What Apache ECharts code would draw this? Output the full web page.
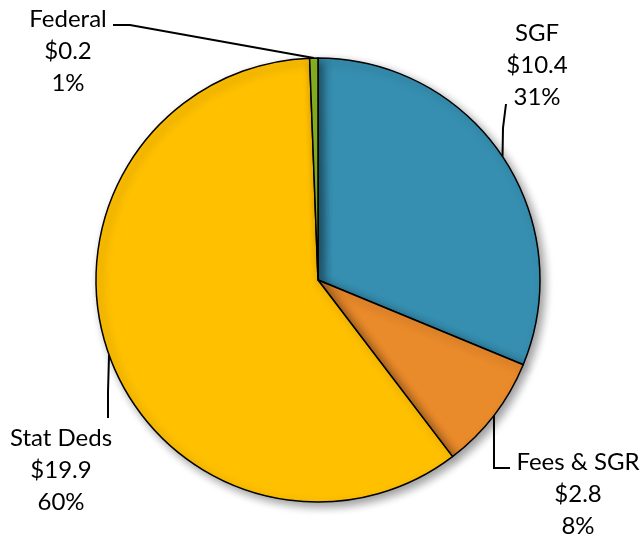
<!DOCTYPE html>
<html>
<head>
<meta charset="utf-8">
<script src="https://cdn.jsdelivr.net/npm/echarts@6/dist/echarts.min.js"></script>
<style>
  html, body { margin: 0; padding: 0; background: #fff; }
  #pieChart { width: 640px; height: 536px; }
</style>
</head>
<body>
<div id="pieChart"></div>
<script>
// funding sources ($ millions)
const categories = ['SGF', 'Fees & SGR', 'Stat Deds', 'Federal'];
const amounts = [10.4, 2.8, 19.9, 0.2];
const sliceColors = ['#368FB1', '#E98A2B', '#FFC000', '#8CB622'];

// where each label block sits (center) and the elbow of its leader line
const labelSpots = [
  { x: 537, y: 65, bend: [[503, 128], [506, 104]] },
  { x: 578, y: 494, bend: [[494, 468], [510, 468]] },
  { x: 61, y: 470, bend: [[108, 392], [108, 418]] },
  { x: 68, y: 51, bend: [[130, 25], [113, 25]] }
];

let chart = echarts.init(document.getElementById('pieChart'));
chart.setOption({
  animation: false,
  series: [{
    type: 'pie',
    center: [318, 280],
    radius: 222,
    startAngle: 90,
    clockwise: true,
    percentPrecision: 0,
    data: categories.map((name, i) => ({
      name: name,
      value: amounts[i],
      itemStyle: { color: sliceColors[i] }
    })),
    itemStyle: {
      borderColor: '#000',
      borderWidth: 1.5,
      shadowBlur: 10,
      shadowOffsetX: 4,
      shadowOffsetY: 4,
      shadowColor: 'rgba(0,0,0,0.4)'
    },
    emphasis: { disabled: true },
    label: {
      show: true,
      position: 'outside',
      formatter: p => p.name + '\n$' + p.value.toFixed(1) + '\n' + p.percent + '%',
      fontFamily: 'Lato',
      fontSize: 24,
      lineHeight: 32,
      color: '#000',
      align: 'center',
      overflow: 'none'
    },
    labelLine: {
      show: true,
      lineStyle: { color: '#000', width: 2 }
    },
    labelLayout: function (params) {
      let spot = labelSpots[params.dataIndex];
      let start = params.labelLinePoints ? params.labelLinePoints[0] : spot.bend[0];
      return {
        x: spot.x,
        y: spot.y,
        align: 'center',
        verticalAlign: 'middle',
        labelLinePoints: [start, spot.bend[0], spot.bend[1]]
      };
    }
  }]
});
</script>
</body>
</html>
